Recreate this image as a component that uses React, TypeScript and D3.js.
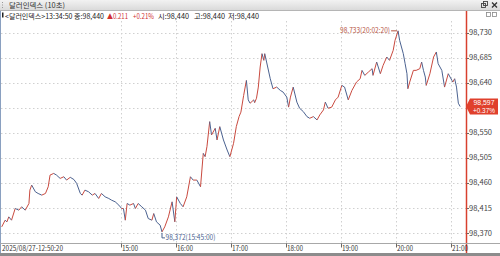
import React from "react";
import * as d3 from "d3";

const W = 500;
const H = 256;

const times = [
  "12:50:20","12:54","12:56","12:58","13:01","13:05","13:09","13:12","13:16","13:20",
  "13:21","13:23","13:27","13:30","13:34","13:38","13:41","13:43","13:47","13:50",
  "13:54","13:58","14:01","14:05","14:09","14:12","14:16","14:18","14:21","14:25",
  "14:29","14:32","14:36","14:39","14:43","14:47","14:50","14:54","14:58","15:01",
  "15:03","15:05","15:07","15:10","15:14","15:16","15:19","15:23","15:27","15:30",
  "15:34","15:36","15:39","15:43","15:45","15:48","15:52","15:56","15:59","16:01",
  "16:05","16:08","16:12","16:16","16:19","16:23","16:27","16:30","16:32","16:34",
  "16:37","16:39","16:43","16:45","16:48","16:52","16:56","16:59","17:03","17:06",
  "17:09","17:11","17:14","17:17","17:19","17:21","17:25","17:26","17:28","17:30",
  "17:32","17:34","17:36","17:37","17:39","17:43","17:46","17:50","17:54","17:57",
  "18:01","18:03","18:05","18:08","18:12","18:15","18:19","18:23","18:26","18:30",
  "18:34","18:37","18:41","18:43","18:46","18:50","18:54","18:57","19:01","19:04",
  "19:08","19:12","19:17","19:21","19:23","19:26","19:30","19:34","19:35","19:39",
  "19:43","19:46","19:50","19:53","19:57","19:59","20:02:20","20:04","20:08","20:10",
  "20:12","20:13","20:15","20:19","20:22","20:26","20:28","20:30","20:32","20:33",
  "20:37","20:41","20:44","20:46","20:50","20:53","20:57","21:01","21:02","21:04",
  "21:06","21:08","21:10",
];

const prices = [
  98381,98393,98390,98399,98393,98414,98411,98417,98411,98423,
  98447,98456,98444,98441,98438,98441,98453,98474,98477,98474,
  98468,98471,98465,98470,98466,98459,98441,98438,98447,98444,
  98438,98441,98432,98441,98435,98432,98429,98426,98420,98414,
  98414,98393,98423,98420,98423,98414,98423,98417,98411,98396,
  98393,98405,98390,98384,98372,98381,98399,98426,98390,98435,
  98423,98417,98435,98471,98465,98465,98453,98513,98507,98525,
  98570,98546,98558,98537,98561,98537,98519,98507,98531,98561,
  98579,98587,98617,98644,98609,98603,98609,98604,98612,98632,
  98668,98692,98680,98692,98677,98647,98629,98632,98626,98623,
  98614,98596,98614,98632,98605,98594,98588,98579,98576,98579,
  98573,98582,98591,98605,98594,98596,98609,98614,98635,98632,
  98609,98626,98641,98647,98662,98653,98659,98665,98653,98677,
  98656,98671,98686,98680,98698,98716,98733,98716,98692,98674,
  98656,98629,98641,98662,98662,98665,98677,98662,98650,98635,
  98656,98686,98695,98674,98662,98632,98656,98644,98641,98647,
  98632,98603,98597,
];

const yTicks = [98370, 98415, 98460, 98505, 98550, 98595, 98640, 98685, 98730];
const xTickTimes = ["15:00", "16:00", "17:00", "18:00", "19:00", "20:00", "21:00"];
const startLabel = "2025/08/27-12:50:20";

const titleText = "달러인덱스 (10초)";
const infoMain = "<달러인덱스>13:34:50 종:98,440";
const infoChange = "▲0.211";
const infoPct = "+0.21%";
const infoOpen = "시:98,440";
const infoHigh = "고:98,440";
const infoLow = "저:98,440";

const maxLabel = "98,733(20:02:20)";
const minLabel = "98,372(15:45:00)";
const lastPrice = "98,597";
const lastPct = "+0.37%";

const FONT = "'Noto Sans CJK KR', 'Noto Sans', sans-serif";

function parseT(t: string): Date {
  const p = t.split(":").map(Number);
  return new Date(2025, 7, 27, p[0], p[1], p[2] || 0);
}

export default function App() {
  const x = d3.scaleTime().domain([parseT("15:00"), parseT("21:00")]).range([120.7, 451]);
  const y = d3.scaleLinear().domain([98370, 98730]).range([233, 32.5]);
  const fmt = d3.format(",");

  const pts = times.map((t, i) => ({ t: parseT(t), v: prices[i] }));
  const segs = pts.slice(1).map((p, i) => ({ a: pts[i], b: p, up: p.v >= pts[i].v }));

  const maxIdx = d3.maxIndex(prices);
  const minIdx = d3.minIndex(prices);
  const maxP = pts[maxIdx];
  const minP = pts[minIdx];
  const lastP = pts[pts.length - 1];

  const plotLeft = 1;
  const plotRight = 466;
  const plotTop = 21;
  const axisY = 243.5;

  const ly = y(lastP.v);
  const fs = 7.2;

  return (
    <svg
      width={W}
      height={H}
      style={{ position: "fixed", left: 0, top: 0, background: "#fff" }}
      fontFamily={FONT}
    >
      <defs>
        <linearGradient id="tb" x1="0" y1="0" x2="0" y2="1">
          <stop offset="0" stopColor="#f2f2f2" />
          <stop offset="1" stopColor="#d9d9d9" />
        </linearGradient>
      </defs>
      <rect x={0} y={0} width={W} height={H} fill="#fff" />

      {/* title bar */}
      <rect x={0} y={0} width={W} height={10.5} fill="url(#tb)" />
      <line x1={0} x2={W} y1={10.5} y2={10.5} stroke="#b5b5b5" />
      <g fill="#999">
        <rect x={2} y={2} width={1} height={1} />
        <rect x={2} y={4.5} width={1} height={1} />
        <rect x={2} y={7} width={1} height={1} />
      </g>
      <text x={9} y={8} fontSize={7.2} fill="#333" textLength={56} lengthAdjust="spacingAndGlyphs">{titleText}</text>
      <rect x={481.5} y={3.5} width={4} height={4} fill="none" stroke="#444" strokeWidth={0.9} />
      <rect x={483.5} y={1.5} width={4} height={4} fill="none" stroke="#444" strokeWidth={0.9} />
      <path d="M492,2.5L497,7.5M497,2.5L492,7.5" stroke="#333" strokeWidth={1.3} />

      {/* left edge */}
      <line x1={0.5} x2={0.5} y1={11} y2={253} stroke="#8aa0c0" />

      {/* info row */}
      <g fontSize={fs}>
        <rect x={2} y={12.5} width={1.5} height={5} fill="#222" />
        <text x={5} y={18.5} fill="#222" textLength={99} lengthAdjust="spacingAndGlyphs">{infoMain}</text>
        <text x={107} y={18.5} fill="#d03030" textLength={21} lengthAdjust="spacingAndGlyphs">{infoChange}</text>
        <text x={133} y={18.5} fill="#d03030" textLength={21} lengthAdjust="spacingAndGlyphs">{infoPct}</text>
        <text x={158} y={18.5} fill="#222" textLength={31} lengthAdjust="spacingAndGlyphs">{infoOpen}</text>
        <text x={194} y={18.5} fill="#222" textLength={31} lengthAdjust="spacingAndGlyphs">{infoHigh}</text>
        <text x={228} y={18.5} fill="#222" textLength={31} lengthAdjust="spacingAndGlyphs">{infoLow}</text>
      </g>

      {/* grid */}
      {yTicks.map((v) => (
        <line key={"gy" + v} x1={plotLeft} x2={plotRight} y1={Math.round(y(v)) + 0.5} y2={Math.round(y(v)) + 0.5}
          stroke="#d0d0d0" strokeDasharray="1.5,2.5" />
      ))}
      {xTickTimes.map((t) => (
        <line key={"gx" + t} x1={Math.round(x(parseT(t))) + 0.5} x2={Math.round(x(parseT(t))) + 0.5} y1={plotTop} y2={axisY}
          stroke="#d0d0d0" strokeDasharray="1.5,2.5" />
      ))}

      {/* price segments */}
      {segs.map((s, i) => (
        <line key={"s" + i} x1={x(s.a.t)} y1={y(s.a.v)} x2={x(s.b.t)} y2={y(s.b.v)}
          stroke={s.up ? "#c94a3f" : "#4b6290"} strokeWidth={1} />
      ))}

      {/* max annotation */}
      <line x1={x(maxP.t) - 7} x2={x(maxP.t) - 1} y1={y(maxP.v)} y2={y(maxP.v)} stroke="#b5533f" />
      <text x={x(maxP.t) - 8} y={y(maxP.v) + 2.6} fontSize={fs} fill="#b5533f" textAnchor="end"
        textLength={50} lengthAdjust="spacingAndGlyphs">{maxLabel}</text>

      {/* min annotation */}
      <path d={`M${x(minP.t)},${y(minP.v) + 1}V${y(minP.v) + 6}H${x(minP.t) + 3}`} fill="none" stroke="#4b6290" />
      <text x={x(minP.t) + 3.5} y={y(minP.v) + 8.5} fontSize={fs} fill="#4b6290"
        textLength={50} lengthAdjust="spacingAndGlyphs">{minLabel}</text>

      {/* right axis */}
      <line x1={466.5} x2={466.5} y1={11} y2={253} stroke="#d8402e" strokeWidth={1.5} />
      <rect x={486.5} y={12.5} width={4} height={4} fill="none" stroke="#888" strokeWidth={0.8} />
      <rect x={492.5} y={12.5} width={4} height={4} fill="none" stroke="#888" strokeWidth={0.8} />
      {yTicks.filter((v) => Math.abs(y(v) - ly) > 8).map((v) => (
        <g key={"ty" + v}>
          <line x1={467} x2={469} y1={Math.round(y(v)) + 0.5} y2={Math.round(y(v)) + 0.5} stroke="#666" />
          <text x={469} y={y(v) + 2.6} fontSize={fs} fill="#444" textLength={23} lengthAdjust="spacingAndGlyphs">{fmt(v)}</text>
        </g>
      ))}

      {/* last price box */}
      <path d={`M466,${ly}L470,${ly - 8}H498V${ly + 8}H470Z`} fill="#e0402c" />
      <g fontFamily="'Liberation Sans', Arial, sans-serif" fontSize={6.4} fill="#fff" textAnchor="middle">
        <text x={484} y={ly - 1.4} textLength={21} lengthAdjust="spacingAndGlyphs">{lastPrice}</text>
        <text x={484} y={ly + 6.4} textLength={22} lengthAdjust="spacingAndGlyphs">{lastPct}</text>
      </g>

      {/* x axis */}
      <line x1={0} x2={W} y1={axisY} y2={axisY} stroke="#a8a8a8" />
      <text x={2} y={251} fontSize={fs} fill="#333" textLength={61} lengthAdjust="spacingAndGlyphs">{startLabel}</text>
      {xTickTimes.map((t) => {
        const xx = Math.round(x(parseT(t))) + 0.5;
        return (
          <g key={"tx" + t}>
            <line x1={xx} x2={xx} y1={axisY} y2={axisY + 4} stroke="#666" />
            <text x={xx + 0.5} y={251} fontSize={fs} fill="#333" textLength={16} lengthAdjust="spacingAndGlyphs">{t}</text>
          </g>
        );
      })}
      <rect x={0} y={253} width={W} height={3} fill="#8c8c8c" />
    </svg>
  );
}
